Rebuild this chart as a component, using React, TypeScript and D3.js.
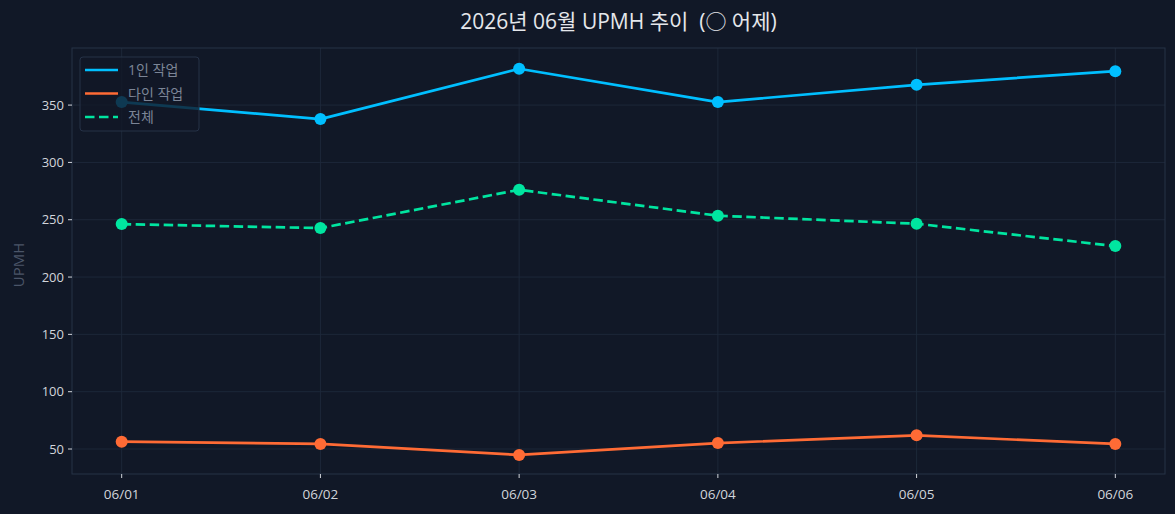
import React from "react";
import * as d3 from "d3";

const categories = ["06/01", "06/02", "06/03", "06/04", "06/05", "06/06"];
const single = [352.6, 337.8, 381.7, 352.6, 367.7, 379.6];
const multi = [56.4, 54.4, 44.8, 55.2, 61.9, 54.4];
const total = [246.2, 242.7, 276.1, 253.5, 246.5, 227.0];
const yTicks = [50, 100, 150, 200, 250, 300, 350];
const seriesNames = ["1인 작업", "다인 작업", "전체"];

const W = 1175;
const H = 514;
const M = { left: 72, right: 1165, top: 48, bottom: 474 };
const BG = "#111827";
const FONT = "'Open Sans', 'Noto Sans CJK KR', sans-serif";

const COLORS = ["#00BFFF", "#FF6B35", "#00E5A0"];

export default function App() {
  const x = d3
    .scaleLinear()
    .domain([-0.25, categories.length - 1 + 0.25])
    .range([M.left, M.right]);
  const y = d3.scaleLinear().domain([28.2, 399.8]).range([M.bottom, M.top]);

  const line = d3
    .line<number>()
    .x((_, i) => x(i))
    .y((d) => y(d));

  const series = [
    { name: seriesNames[0], data: single, color: COLORS[0], dash: undefined as string | undefined },
    { name: seriesNames[1], data: multi, color: COLORS[1], dash: undefined },
    { name: seriesNames[2], data: total, color: COLORS[2], dash: "9.5,4.5" },
  ];

  const gridColor = "#1e293b";
  const spineColor = "#263247";

  return (
    <div style={{ position: "fixed", left: 0, top: 0, width: W, height: H, background: BG }}>
      <svg width={W} height={H} style={{ display: "block", fontFamily: FONT }}>
        <rect x={0} y={0} width={W} height={H} fill={BG} />
        {yTicks.map((t) => (
          <line key={"gy" + t} x1={M.left} x2={M.right} y1={y(t)} y2={y(t)} stroke={gridColor} strokeWidth={0.9} />
        ))}
        {categories.map((c, i) => (
          <line key={"gx" + c} x1={x(i)} x2={x(i)} y1={M.top} y2={M.bottom} stroke={gridColor} strokeWidth={0.9} />
        ))}
        <rect
          x={M.left}
          y={M.top}
          width={M.right - M.left}
          height={M.bottom - M.top}
          fill="none"
          stroke={spineColor}
          strokeWidth={1}
        />
        {yTicks.map((t) => (
          <g key={"yt" + t}>
            <line x1={M.left - 4} x2={M.left} y1={y(t)} y2={y(t)} stroke="#d1d5db" strokeWidth={1} />
            <text x={M.left - 8} y={y(t)} dy="0.36em" textAnchor="end" fontSize={13} fill="#d1d5db">
              {t}
            </text>
          </g>
        ))}
        {categories.map((c, i) => (
          <g key={"xt" + c}>
            <line x1={x(i)} x2={x(i)} y1={M.bottom} y2={M.bottom + 4} stroke="#d1d5db" strokeWidth={1} />
            <text x={x(i)} y={M.bottom + 25} textAnchor="middle" fontSize={13.5} fill="#d1d5db">
              {c}
            </text>
          </g>
        ))}
        <text
          transform={`translate(${24},${265}) rotate(-90)`}
          textAnchor="middle"
          fontSize={15}
          fill="#4b5568"
        >
          UPMH
        </text>
        <text x={(M.left + M.right) / 2} y={29} textAnchor="middle" fontSize={21} fill="#e5e7eb" style={{ whiteSpace: "pre" }}>
          {"2026년 06월 UPMH 추이  (○ 어제)"}
        </text>
        {series.map((s) => (
          <g key={s.name}>
            <path
              d={line(s.data) || ""}
              fill="none"
              stroke={s.color}
              strokeWidth={2.7}
              strokeDasharray={s.dash}
              strokeLinejoin="round"
            />
            {s.data.map((v, i) => (
              <circle key={i} cx={x(i)} cy={y(v)} r={6} fill={s.color} />
            ))}
          </g>
        ))}
        <g>
          <rect x={80} y={57} width={119} height={74} rx={3} fill={BG} fillOpacity={0.8} stroke={spineColor} strokeWidth={1} />
          {series.map((s, i) => (
            <g key={"lg" + s.name}>
              <line
                x1={85}
                x2={118}
                y1={70 + i * 23.5}
                y2={70 + i * 23.5}
                stroke={s.color}
                strokeWidth={2.7}
                strokeDasharray={s.dash}
              />
              <text x={128} y={70 + i * 23.5} dy="0.36em" fontSize={14} fill="#7c8596">
                {s.name}
              </text>
            </g>
          ))}
        </g>
      </svg>
    </div>
  );
}
